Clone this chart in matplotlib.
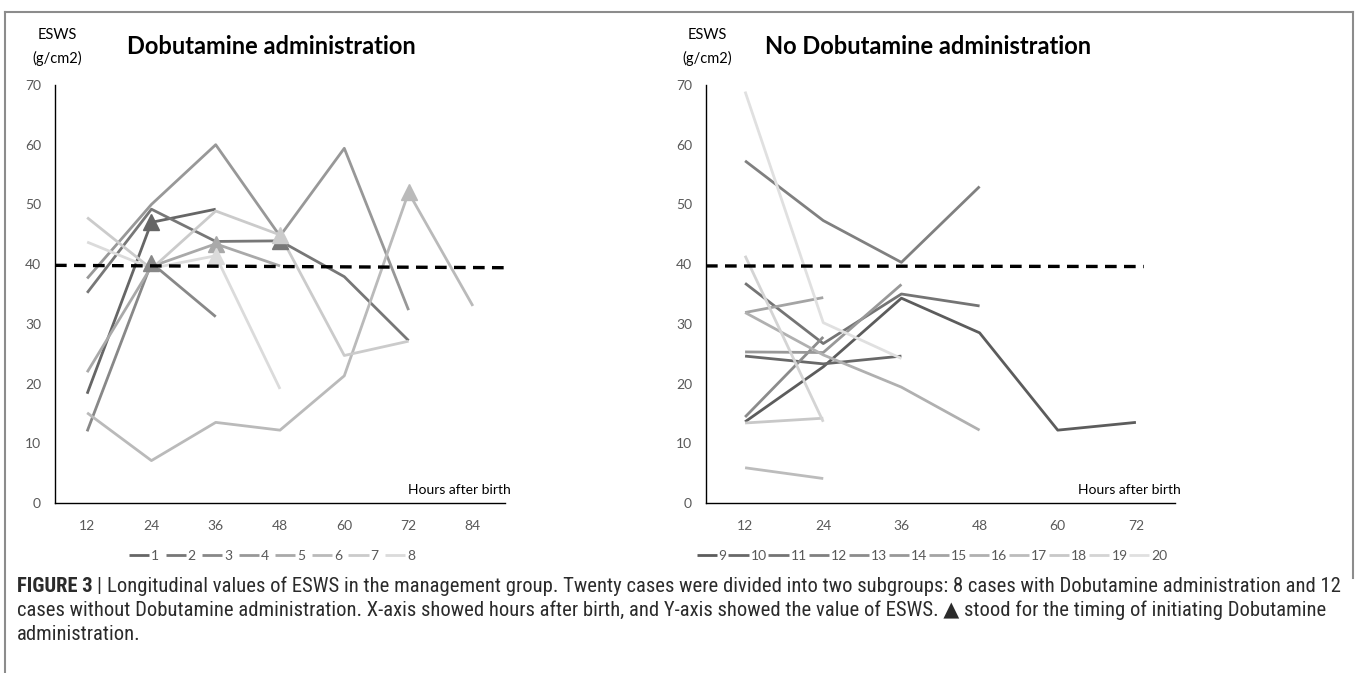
import matplotlib
matplotlib.use('Agg')
import matplotlib.pyplot as plt
from matplotlib import font_manager
import numpy as np
from matplotlib.lines import Line2D

nan = np.nan

# Horas tras el nacimiento
hours_left = ['12', '24', '36', '48', '60', '72', '84']
hours_right = ['12', '24', '36', '48', '60', '72']

# Grupo con Dobutamina (casos 1-8)
case1 = [18.3, 47.0, 49.2, nan, nan, nan, nan]
case2 = [35.2, 49.2, 43.8, 43.9, 37.9, 27.2, nan]
case3 = [12.0, 40.2, 31.2, nan, nan, nan, nan]
case4 = [37.6, 50.0, 60.0, 44.7, 59.4, 32.3, nan]
case5 = [21.9, 39.6, 43.4, 39.7, nan, nan, nan]
case6 = [15.1, 7.1, 13.5, 12.2, 21.3, 52.0, 33.0]
case7 = [47.8, 39.2, 48.9, 44.9, 24.7, 27.1, nan]
case8 = [43.7, 39.3, 41.4, 19.1, nan, nan, nan]
left_cases = [case1, case2, case3, case4, case5, case6, case7, case8]
left_names = ['1', '2', '3', '4', '5', '6', '7', '8']
# indice del inicio de Dobutamina (triangulo), None = sin marca
left_start = [1, 3, 1, None, 2, 5, 3, 2]

# Grupo sin Dobutamina (casos 9-20)
case9 = [13.6, 22.8, 34.3, 28.5, 12.2, 13.5]
case10 = [24.6, 23.3, 24.6, nan, nan, nan]
case11 = [36.8, 26.7, 35.0, 33.0, nan, nan]
case12 = [57.3, 47.3, 40.3, 53.0, nan, nan]
case13 = [14.4, 27.8, nan, nan, nan, nan]
case14 = [25.3, 25.2, 36.6, nan, nan, nan]
case15 = [31.9, 34.4, nan, nan, nan, nan]
case16 = [31.9, 24.8, 19.4, 12.2, nan, nan]
case17 = [5.9, 4.1, nan, nan, nan, nan]
case18 = [13.4, 14.2, nan, nan, nan, nan]
case19 = [41.4, 13.6, nan, nan, nan, nan]
case20 = [68.9, 30.2, 24.2, nan, nan, nan]
right_cases = [case9, case10, case11, case12, case13, case14,
               case15, case16, case17, case18, case19, case20]
right_names = [str(i) for i in range(9, 21)]

# linea de referencia (ESWS ~ 40)
thr_left = [39.8, 39.4]
thr_right = [39.7, 39.6]

W, H = 1358, 673
fig = plt.figure(figsize=(W / 100, H / 100), dpi=100)
plt.rcParams['font.family'] = ['Lato', 'DejaVu Sans']

TXT = '#595959'


def px_axes(x0, x1, y_top, y_bot):
    return fig.add_axes([x0 / W, 1 - y_bot / H, (x1 - x0) / W, (y_bot - y_top) / H])


def style(ax, n):
    ax.set_xlim(-0.5, n - 0.5)
    ax.set_ylim(0, 70)
    ax.set_yticks(range(0, 71, 10))
    for s in ['top', 'right']:
        ax.spines[s].set_visible(False)
    ax.spines['left'].set_color('#000000')
    ax.spines['bottom'].set_color('#000000')
    ax.spines['left'].set_linewidth(1.0)
    ax.spines['bottom'].set_linewidth(1.0)
    ax.tick_params(axis='y', length=0, pad=10, labelsize=10, labelcolor=TXT)
    ax.tick_params(axis='x', length=0, pad=12, labelsize=10, labelcolor=TXT)
    ax.text(1.012, 0.016, 'Hours after birth', transform=ax.transAxes,
            ha='right', va='bottom', fontsize=10, color='#000000')


def draw(ax, cases, names, colors, starts=None):
    x = np.arange(len(cases[0]))
    handles = []
    for i, (vals, name, c) in enumerate(zip(cases, names, colors)):
        ln, = ax.plot(x, vals, color=c, lw=2.0, solid_capstyle='butt', label=name)
        handles.append(ln)
        if starts is not None and starts[i] is not None:
            k = starts[i]
            ax.plot(x[k], vals[k], marker='^', ms=11, color=c, zorder=5)
    return handles


left_colors = [str(v) for v in np.linspace(0.40, 0.86, 8)]
right_colors = [str(v) for v in np.linspace(0.36, 0.88, 12)]

# panel izquierdo
ax1 = px_axes(55, 505, 85, 503)
style(ax1, len(hours_left))
ax1.set_xticks(range(len(hours_left)))
ax1.set_xticklabels(hours_left)
h1 = draw(ax1, left_cases, left_names, left_colors, left_start)
ax1.plot([-0.5, 6.55], thr_left, color='black', lw=2.4, dashes=(3.5, 2.2), clip_on=False, zorder=6)

# panel derecho
ax2 = px_axes(706, 1175, 85, 503)
style(ax2, len(hours_right))
ax2.set_xticks(range(len(hours_right)))
ax2.set_xticklabels(hours_right)
h2 = draw(ax2, right_cases, right_names, right_colors)
ax2.plot([-0.5, 5.1], thr_right, color='black', lw=2.4, dashes=(3.5, 2.2), clip_on=False, zorder=6)

# titulos y etiquetas del eje y
fig.text(271 / W, 1 - 47 / H, 'Dobutamine administration', ha='center', va='center',
         fontsize=17, fontweight='bold', color='black')
fig.text(928 / W, 1 - 47 / H, 'No Dobutamine administration', ha='center', va='center',
         fontsize=17, fontweight='bold', color='black')
for xc in (57, 707):
    fig.text(xc / W, 1 - 35 / H, 'ESWS', ha='center', va='center', fontsize=10.5, color='black')
    fig.text(xc / W, 1 - 58 / H, '(g/cm2)', ha='center', va='center', fontsize=10.5, color='black')

# leyendas
leg_kw = dict(loc='center', frameon=False, fontsize=10, handlelength=1.45,
              handletextpad=0.15, labelcolor=TXT)
fig.legend(handles=h1, ncol=8, columnspacing=0.45, bbox_to_anchor=(272 / W, 1 - 556 / H), **leg_kw)
fig.legend(handles=h2, ncol=12, columnspacing=0.12, bbox_to_anchor=(932 / W, 1 - 556 / H), **leg_kw)

# marco
fc = '#8c8c8c'
fig.add_artist(Line2D([5 / W, 1353 / W], [1 - 12 / H, 1 - 12 / H], color=fc, lw=1.5))
fig.add_artist(Line2D([5 / W, 5 / W], [1 - 12 / H, 0], color=fc, lw=1.5))
fig.add_artist(Line2D([1353 / W, 1353 / W], [1 - 12 / H, 1 - 578 / H], color=fc, lw=1.5))

# pie de figura: buscar una fuente estrecha si existe
names = {f.name for f in font_manager.fontManager.ttflist}
cap_font = ['Liberation Sans', 'DejaVu Sans']
for cand in ['Liberation Sans Narrow', 'Arial Narrow', 'DejaVu Sans Condensed', 'Roboto Condensed']:
    if cand in names:
        cap_font = [cand, 'DejaVu Sans']
        break

lines = [
    'Longitudinal values of ESWS in the management group. Twenty cases were divided into two subgroups: 8 cases with Dobutamine administration and 12',
    'cases without Dobutamine administration. X-axis showed hours after birth, and Y-axis showed the value of ESWS. \u25b2 stood for the timing of initiating Dobutamine',
    'administration.',
]
CAP = '#2b2b2b'
r = fig.canvas.get_renderer()


def caption(fs):
    arts = []
    b = fig.text(17 / W, 1 - 586 / H, 'FIGURE 3 ', fontsize=fs, fontweight='bold',
                 family=cap_font, color=CAP, va='center')
    arts.append(b)
    bw = b.get_window_extent(renderer=r)
    bar = fig.text(bw.x1 / W, 1 - 586 / H, '| ', fontsize=fs, family=cap_font, color=CAP, va='center')
    arts.append(bar)
    barw = bar.get_window_extent(renderer=r)
    t = fig.text(barw.x1 / W, 1 - 586 / H, lines[0], fontsize=fs, family=cap_font, color=CAP, va='center')
    arts.append(t)
    arts.append(fig.text(17 / W, 1 - 610 / H, lines[1], fontsize=fs, family=cap_font, color=CAP, va='center'))
    arts.append(fig.text(17 / W, 1 - 634 / H, lines[2], fontsize=fs, family=cap_font, color=CAP, va='center'))
    return arts, t.get_window_extent(renderer=r).x1


fs0 = 11.5
arts, x_end = caption(fs0)
for a in arts:
    a.remove()
fs = fs0 * (1337 - 17) / (x_end - 17)
caption(fs)

fig.savefig('out.png', dpi=100)
